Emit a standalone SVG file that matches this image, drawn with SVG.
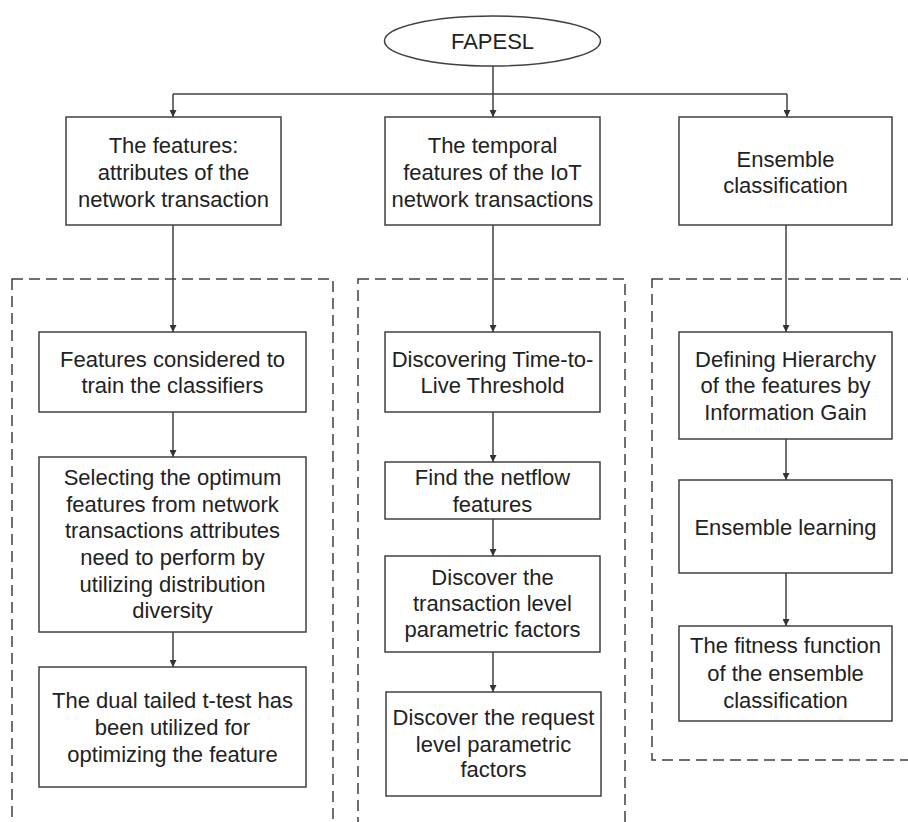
<svg xmlns="http://www.w3.org/2000/svg" width="908" height="822" viewBox="0 0 908 822">
<style>
.box{fill:#fff;stroke:#404040;stroke-width:1.5}
.dash{fill:none;stroke:#404040;stroke-width:1.5;stroke-dasharray:11,6}
.ln{fill:none;stroke:#404040;stroke-width:1.5}
.arr{fill:none;stroke:#404040;stroke-width:1.5;marker-end:url(#ah)}
text{font-family:"Liberation Sans",Arial,sans-serif;font-size:22px;fill:#222;text-anchor:middle}
</style>
<defs>
<marker id="ah" viewBox="0 0 10 10" refX="10" refY="5" markerWidth="7" markerHeight="7" markerUnits="userSpaceOnUse" orient="auto">
<path d="M0,0 L10,5 L0,10 z" fill="#333"/>
</marker>
</defs>
<rect width="908" height="822" fill="#fff"/>
<g id="groups">
<rect class="dash" x="12" y="279" width="321" height="560"/>
<rect class="dash" x="358" y="279" width="267" height="560"/>
<rect class="dash" x="652" y="279" width="280" height="481"/>
</g>
<g id="connectors">
<line class="arr" x1="493" y1="66" x2="493" y2="117"/>
<line class="ln" x1="173" y1="94" x2="787" y2="94"/>
<line class="arr" x1="173" y1="94" x2="173" y2="117"/>
<line class="arr" x1="787" y1="94" x2="787" y2="117"/>
<line class="arr" x1="173" y1="225" x2="173" y2="332"/>
<line class="arr" x1="173" y1="412" x2="173" y2="457"/>
<line class="arr" x1="173" y1="632" x2="173" y2="667"/>
<line class="arr" x1="493" y1="225" x2="493" y2="332"/>
<line class="arr" x1="493" y1="412" x2="493" y2="462"/>
<line class="arr" x1="493" y1="519" x2="493" y2="556"/>
<line class="arr" x1="493" y1="652" x2="493" y2="692"/>
<line class="arr" x1="786" y1="225" x2="786" y2="332"/>
<line class="arr" x1="786" y1="439" x2="786" y2="480"/>
<line class="arr" x1="786" y1="573" x2="786" y2="626"/>
</g>
<g id="fapesl">
<ellipse cx="492.5" cy="41" rx="108" ry="25" fill="#fff" stroke="#404040" stroke-width="1.5"/>
<text x="492.5" y="49">FAPESL</text>
</g>
<g id="n-features">
<rect class="box" x="66" y="117" width="215" height="108"/>
<text x="173.5" y="153">The features:</text>
<text x="173.5" y="180">attributes of the</text>
<text x="173.5" y="207">network transaction</text>
</g>
<g id="n-temporal">
<rect class="box" x="385" y="117" width="215" height="108"/>
<text x="492.5" y="153">The temporal</text>
<text x="492.5" y="180">features of the IoT</text>
<text x="492.5" y="207">network transactions</text>
</g>
<g id="n-ensemble">
<rect class="box" x="679" y="117" width="213" height="108"/>
<text x="785.5" y="167">Ensemble</text>
<text x="785.5" y="193">classification</text>
</g>
<g id="n-considered">
<rect class="box" x="39" y="332" width="267" height="80"/>
<text x="172.5" y="367">Features considered to</text>
<text x="172.5" y="393">train the classifiers</text>
</g>
<g id="n-selecting">
<rect class="box" x="39" y="457" width="267" height="175"/>
<text x="172.5" y="485">Selecting the optimum</text>
<text x="172.5" y="512">features from network</text>
<text x="172.5" y="538">transactions attributes</text>
<text x="172.5" y="565">need to perform by</text>
<text x="172.5" y="592">utilizing distribution</text>
<text x="172.5" y="618">diversity</text>
</g>
<g id="n-ttest">
<rect class="box" x="39" y="667" width="267" height="120"/>
<text x="172.5" y="708">The dual tailed t-test has</text>
<text x="172.5" y="735">been utilized for</text>
<text x="172.5" y="762">optimizing the feature</text>
</g>
<g id="n-ttl">
<rect class="box" x="385" y="332" width="215" height="80"/>
<text x="492.5" y="367">Discovering Time-to-</text>
<text x="492.5" y="393">Live Threshold</text>
</g>
<g id="n-netflow">
<rect class="box" x="385" y="462" width="215" height="57"/>
<text x="492.5" y="485">Find the netflow</text>
<text x="492.5" y="512">features</text>
</g>
<g id="n-transaction">
<rect class="box" x="385" y="556" width="215" height="96"/>
<text x="492.5" y="585">Discover the</text>
<text x="492.5" y="611">transaction level</text>
<text x="492.5" y="637">parametric factors</text>
</g>
<g id="n-request">
<rect class="box" x="386" y="692" width="215" height="104"/>
<text x="493.5" y="725">Discover the request</text>
<text x="493.5" y="752">level parametric</text>
<text x="493.5" y="777">factors</text>
</g>
<g id="n-hierarchy">
<rect class="box" x="679" y="332" width="213" height="107"/>
<text x="785.5" y="367">Defining Hierarchy</text>
<text x="785.5" y="393">of the features by</text>
<text x="785.5" y="420">Information Gain</text>
</g>
<g id="n-learning">
<rect class="box" x="679" y="480" width="213" height="93"/>
<text x="785.5" y="535">Ensemble learning</text>
</g>
<g id="n-fitness">
<rect class="box" x="679" y="626" width="213" height="95"/>
<text x="785.5" y="653">The fitness function</text>
<text x="785.5" y="681">of the ensemble</text>
<text x="785.5" y="708">classification</text>
</g>
</svg>
